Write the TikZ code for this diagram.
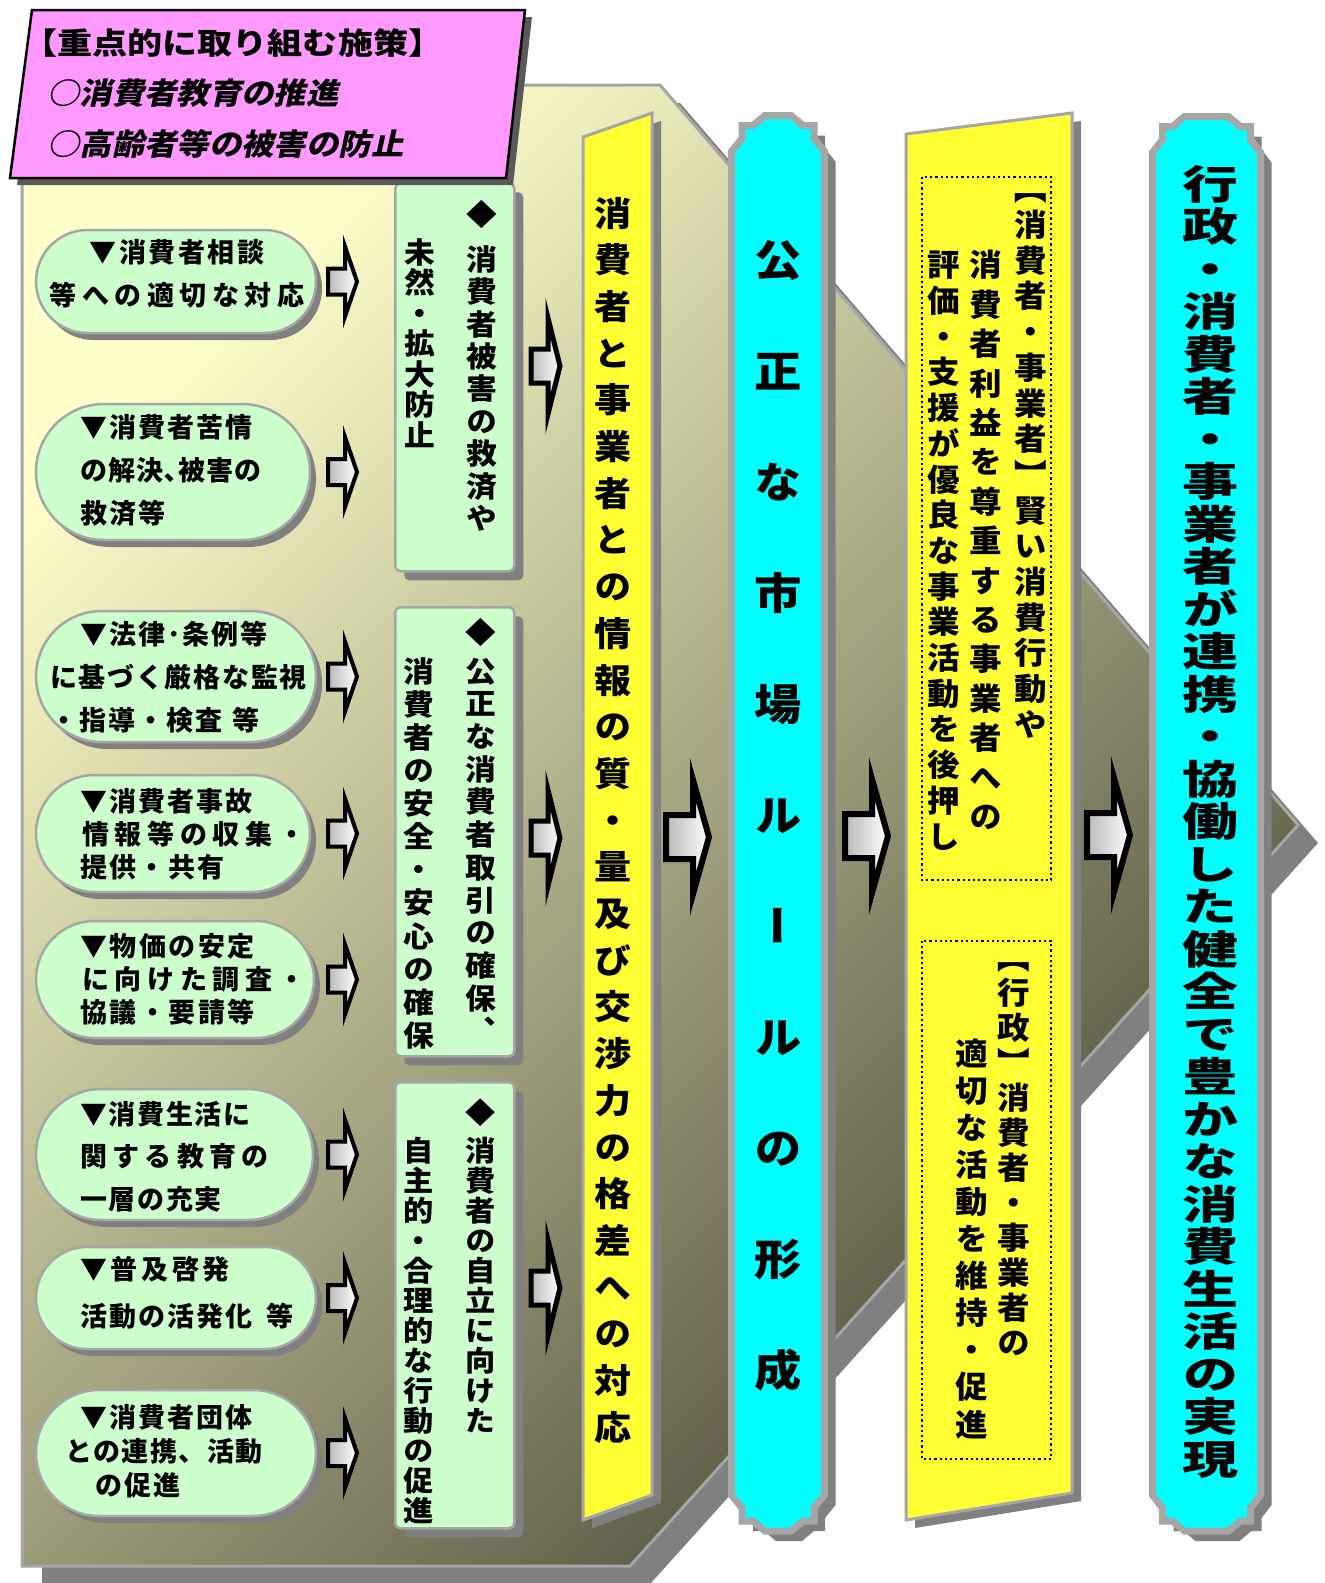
\documentclass[tikz,border=0pt]{standalone}
\usepackage{fontspec}
\usepackage{graphicx}
\usetikzlibrary{shapes.misc,shadows}

\newfontfamily\jp{Noto Sans CJK JP}[UprightFont={* Black}]
\newfontfamily\jpv{Noto Sans CJK JP}[UprightFont={* Black},RawFeature=+vert]
\newfontfamily\jpsl{Noto Sans CJK JP}[UprightFont={* Black},FakeSlant=0.2]

\definecolor{pinkbox}{HTML}{FF99FF}
\definecolor{pillgreen}{HTML}{CCFFCC}
\definecolor{ylw}{HTML}{FFFF33}
\definecolor{cyn}{HTML}{00FFFF}
\definecolor{edgegray}{HTML}{A6A6A6}
\definecolor{shadowgray}{HTML}{808080}
\definecolor{bgLight}{HTML}{FFFFCC}
\definecolor{bgMid}{HTML}{B4B292}
\definecolor{bgDark}{HTML}{4A4938}

% vertical text: one character per step
\makeatletter
\newcommand\vcol[1]{\vbox{\offinterlineskip#1}}
\newcommand\vchars[2]{\def\vc@p{#1}\vc@go#2\@nil}
\def\vc@go#1{\ifx#1\@nil\else\hbox to 1em{\hss\vbox to \vc@p{\vss\hbox{\vrule height .88em depth .12em width 0pt#1}\vss}\hss}\expandafter\vc@go\fi}
% letter spaced line
\newcommand\lsp[2]{\def\ls@k{#1pt}\ls@first#2\@nil}
\def\ls@first#1{#1\ls@go}
\def\ls@go#1{\ifx#1\@nil\else\kern\ls@k#1\expandafter\ls@go\fi}
\makeatother

% block arrow: x0 x1 x2 y h H linewidth
\newcommand\barrow[7]{\draw[arrowshape, line width=#7] (#1,#4-#5) -- (#2,#4-#5) -- (#2,#4-#6) -- (#3,#4) -- (#2,#4+#6) -- (#2,#4+#5) -- (#1,#4+#5) -- cycle;}

% notched column: cx top bottom halfwidth step flat
\newcommand\notchcol[6]{\draw[ccol] (#1-#4,#2+36) -- (#1-#5,#2+23) -- (#1-#5,#2+10) -- (#1-#6-12,#2+10) -- (#1-#6,#2) -- (#1+#6,#2) -- (#1+#6+12,#2+10) -- (#1+#5,#2+10) -- (#1+#5,#2+23) -- (#1+#4,#2+36) -- (#1+#4,#3-36) -- (#1+#5,#3-23) -- (#1+#5,#3-10) -- (#1+#6+12,#3-10) -- (#1+#6,#3) -- (#1-#6,#3) -- (#1-#6-12,#3-10) -- (#1-#5,#3-10) -- (#1-#5,#3-23) -- (#1-#4,#3-36) -- cycle;}

\begin{document}
\begin{tikzpicture}[x=1pt,y=-1pt,
  bgshape/.style={draw=edgegray, line width=3, top color=bgLight, middle color=bgMid, bottom color=bgDark, shading angle=45},
  pill/.style={rounded rectangle, fill=pillgreen, draw=edgegray, line width=2.5, inner sep=0,
    drop shadow={shadow xshift=6pt, shadow yshift=-7pt, fill=shadowgray, opacity=1}},
  gbox/.style={rectangle, rounded corners=5, fill=pillgreen, draw=edgegray, line width=2.5, inner sep=0, anchor=north west,
    drop shadow={shadow xshift=9pt, shadow yshift=-9pt, fill=shadowgray, opacity=1}},
  ycol/.style={fill=ylw, draw=edgegray, line width=3,
    drop shadow={shadow xshift=9pt, shadow yshift=-8pt, fill=shadowgray, opacity=1}},
  ccol/.style={fill=cyn, draw=edgegray, line width=7,
    drop shadow={shadow xshift=11pt, shadow yshift=-10pt, fill=shadowgray, opacity=1}},
  pinkshape/.style={fill=pinkbox, draw=black, line width=2.5,
    drop shadow={shadow xshift=7pt, shadow yshift=-7pt, fill=gray!70!black, opacity=1}},
  dotbox/.style={draw=black, line width=2.2, dash pattern=on 2.2pt off 3pt},
  arrowshape/.style={draw=black, line join=miter, left color=gray!55, right color=white},
  ptext/.style={inner sep=0, align=left, anchor=west},
  vtext/.style={inner sep=0, anchor=north}]

\useasboundingbox (0,0) rectangle (1325,1583);
\fill[white] (0,0) rectangle (1325,1583);

% background arrow
\fill[shadowgray] (42,103) -- (680,103) -- (1318,843) -- (650,1584) -- (42,1584) -- cycle;
\draw[bgshape] (22,85) -- (660,85) -- (1298,825) -- (630,1566) -- (22,1566) -- cycle;

% green boxes
\node[gbox, minimum width=119, minimum height=388] (boxA) at (394,182) {};
\node[gbox, minimum width=119, minimum height=449] (boxB) at (394,606) {};
\node[gbox, minimum width=119, minimum height=446] (boxC) at (394,1081) {};

% pills
\node[pill, minimum width=280, minimum height=103] (p1) at (176,281.5) {};
\node[pill, minimum width=274, minimum height=136] (p2) at (173,472) {};
\node[pill, minimum width=280, minimum height=131] (p3) at (176,676.5) {};
\node[pill, minimum width=274, minimum height=117] (p4) at (173,833.5) {};
\node[pill, minimum width=278, minimum height=117] (p5) at (175,979.5) {};
\node[pill, minimum width=277, minimum height=131] (p6) at (174.5,1154.5) {};
\node[pill, minimum width=280, minimum height=102] (p7) at (176,1298) {};
\node[pill, minimum width=280, minimum height=126] (p8) at (176,1453) {};

% small arrows
\foreach \yy in {281.5,472,676.5,833.5,979.5,1154.5,1298,1453}
  {\barrow{328}{345}{357}{\yy}{13}{35}{4}}
% medium arrows
\foreach \yy in {366,838,1288}
  {\barrow{531}{548}{560}{\yy}{17}{48}{5}}

% columns
\draw[ycol] (583,137) -- (652,113) -- (652,1495) -- (583,1520) -- cycle;
\notchcol{778}{115.5}{1531}{46.5}{36}{13}
\draw[ycol] (906,134) -- (1072,113) -- (1072,1493) -- (906,1520) -- cycle;
\notchcol{1206.5}{116.5}{1531}{54}{44}{22}
\draw[dotbox] (922,177) rectangle (1051,880);
\draw[dotbox] (922,941) rectangle (1051,1459);

% big arrows
\barrow{666}{693}{709}{837}{22}{57}{6}
\barrow{845}{872}{888}{836}{22}{57}{6}
\barrow{1087}{1114}{1130}{835}{22}{57}{6}

% title box
\draw[pinkshape] (32,10) -- (525,10) -- (506,178) -- (10,178) -- cycle;
\node[inner sep=0, anchor=west, font=\jp\fontsize{30}{30}\selectfont] (head) at (22,43) {\scalebox{1.17}[1]{【重点的に取り組む施策】}};
\node[inner sep=0, anchor=west, font=\jpsl\fontsize{30}{30}\selectfont] (aim1) at (47,93) {\scalebox{1.08}[1]{○消費者教育の推進}};
\node[inner sep=0, anchor=west, font=\jpsl\fontsize{30}{30}\selectfont] (aim2) at (47,144) {\scalebox{1.08}[1]{○高齢者等の被害の防止}};

% pill texts
\node[ptext, anchor=center, align=center, font=\jp\fontsize{27}{43}\selectfont] (t1) at (177,273.5)
  {\lsp{2.5}{▼消費者相談}\\\lsp{5.5}{等への適切な対応}};
\node[ptext, font=\jp\fontsize{27}{43}\selectfont] (t2) at (80,470)
  {\lsp{2}{▼消費者苦情}\\\lsp{1}{の解決､被害の}\\\lsp{2}{救済等}};
\node[ptext, font=\jp\fontsize{27}{43}\selectfont] (t3) at (50,677)
  {\hspace*{30pt}\lsp{2}{▼法律･条例等}\\\lsp{1.7}{に基づく厳格な監視}\\\lsp{2}{・指導・検査\ 等}};
\node[ptext, font=\jp\fontsize{27}{33}\selectfont] (t4) at (80,834)
  {\lsp{2}{▼消費者事故}\\\hspace*{2pt}\lsp{5.7}{情報等の収集・}\\\lsp{2.3}{提供・共有}};
\node[ptext, font=\jp\fontsize{27}{33}\selectfont] (t5) at (80,979)
  {\lsp{2.5}{▼物価の安定}\\\hspace*{2pt}\lsp{5.7}{に向けた調査・}\\\lsp{2.5}{協議・要請等}};
\node[ptext, font=\jp\fontsize{27}{42.5}\selectfont] (t6) at (80,1156.5)
  {\lsp{1.7}{▼消費生活に}\\\lsp{5.3}{関する教育の}\\\lsp{1.7}{一層の充実}};
\node[ptext, font=\jp\fontsize{27}{47}\selectfont] (t7) at (80,1292.5)
  {\lsp{3.7}{▼普及啓発}\\\lsp{2}{活動の活発化}\kern14pt 等};
\node[ptext, font=\jp\fontsize{27}{34}\selectfont] (t8) at (65,1451)
  {\hspace*{15pt}\lsp{2}{▼消費者団体}\\\lsp{1.4}{との連携、活動}\\\hspace*{30pt}\lsp{2}{の促進}};

% vertical texts in green boxes
\node[vtext, font=\jpv\fontsize{29}{29}\selectfont] (aR) at (482,185.2)
  {\scalebox{1.06}[1]{\vcol{\vchars{57.6pt}{◆}\vchars{32.4pt}{消費者被害の救済や}}}};
\node[vtext, font=\jpv\fontsize{29}{29}\selectfont] (aL) at (420,236.7)
  {\scalebox{1.06}[1]{\vcol{\vchars{30.5pt}{未然・拡大防止}}}};
\node[vtext, font=\jpv\fontsize{29}{29}\selectfont] (bR) at (481,609.3)
  {\scalebox{1.06}[1]{\vcol{\vchars{45.3pt}{◆}\vchars{32.7pt}{公正な消費者取引の確保、}}}};
\node[vtext, font=\jpv\fontsize{29}{29}\selectfont] (bL) at (419,654.5)
  {\scalebox{1.06}[1]{\vcol{\vchars{33.1pt}{消費者の安全・安心の確保}}}};
\node[vtext, font=\jpv\fontsize{28.5}{28.5}\selectfont] (cR) at (481,1089)
  {\scalebox{1.06}[1]{\vcol{\vchars{46pt}{◆}\vchars{30pt}{消費者の自立に向けた}}}};
\node[vtext, font=\jpv\fontsize{28.5}{28.5}\selectfont] (cL) at (419,1135)
  {\scalebox{1.06}[1]{\vcol{\vchars{30pt}{自主的・合理的な行動の促進}}}};

% column texts
\node[vtext, font=\jpv\fontsize{34}{34}\selectfont] (gap) at (613,189.6)
  {\scalebox{1.09}[1]{\vcol{\vchars{46.7pt}{消費者と事業者との情報の質・量及び交渉力の格差への対応}}}};
\node[vtext, font=\jpv\fontsize{43}{43}\selectfont] (rule) at (778,204.5)
  {\scalebox{1.1}[1]{\vcol{\vchars{111pt}{公正な市場ルールの形成}}}};
\node[vtext, font=\jpv\fontsize{31}{31}\selectfont] (bizR) at (1031,171)
  {\scalebox{1.05}[1]{\vcol{\vchars{35.7pt}{【消費者・事業者】賢い消費行動や}}}};
\node[vtext, font=\jpv\fontsize{31}{31}\selectfont] (bizM) at (986,245.3)
  {\scalebox{1.05}[1]{\vcol{\vchars{39.4pt}{消費者利益を尊重する事業者への}}}};
\node[vtext, font=\jpv\fontsize{31}{31}\selectfont] (bizL) at (944,247)
  {\scalebox{1.05}[1]{\vcol{\vchars{35.7pt}{評価・支援が優良な事業活動を後押し}}}};
\node[vtext, font=\jpv\fontsize{31}{31}\selectfont] (govR) at (1014,940.5)
  {\scalebox{1.05}[1]{\vcol{\vchars{35pt}{【行政】消費者・事業者の}}}};
\node[vtext, font=\jpv\fontsize{31}{31}\selectfont] (govL) at (972,1034.5)
  {\scalebox{1.05}[1]{\vcol{\vchars{37.1pt}{適切な活動を維持・促進}}}};
\node[vtext, font=\jpv\fontsize{40}{40}\selectfont] (goal) at (1210,162.75)
  {\scalebox{1.4}[1]{\vcol{\vchars{42.5pt}{行政・消費者・事業者が連携・協働した健全で豊かな消費生活の実現}}}};

\end{tikzpicture}
\end{document}
